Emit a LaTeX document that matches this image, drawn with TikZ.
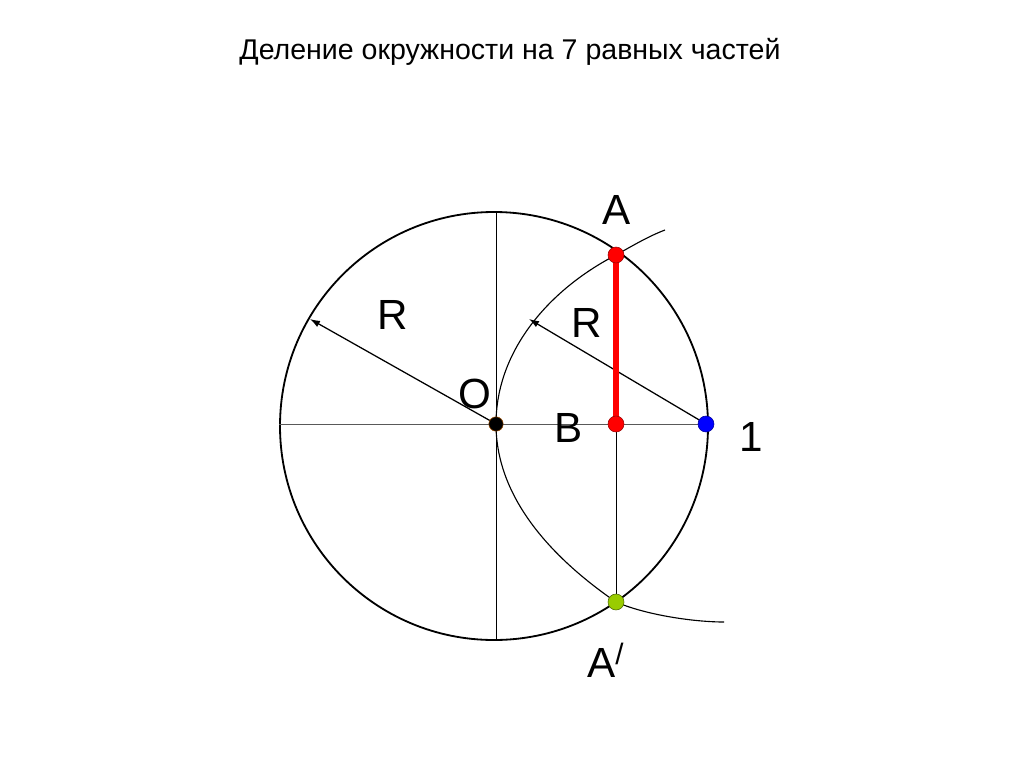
\documentclass[tikz,border=0pt]{standalone}
\usepackage{fontspec}
\setmainfont{Liberation Sans}
\usetikzlibrary{arrows.meta}

\definecolor{ptgreen}{RGB}{153,204,0}

\begin{document}
\begin{tikzpicture}[x=0.25mm, y=-0.25mm]

		\tikzstyle{dot}=[circle, inner sep=0pt, minimum size=4mm, draw, line width=0.4pt]
		\tikzstyle{lbl}=[font=\fontsize{30}{36}\selectfont, inner sep=0pt]
		\tikzstyle{fine}=[line width=0.6pt, black]
		\tikzstyle{radius}=[-{Latex[length=2.5mm, width=1.7mm]}, line width=0.9pt, black]

		\useasboundingbox (0,0) rectangle (1024,768);

		\node[font=\fontsize{20.3}{24}\selectfont] (title) at (510,52) {Деление окружности на 7 равных частей};

		% construction points
		\coordinate (c)    at (494,426);
		\coordinate (left) at (279,424);
		\coordinate (top)  at (496,213);
		\coordinate (bot)  at (496,640);
		\coordinate (r1)   at (310,319);
		\coordinate (r2)   at (529,319);
		\coordinate (arcA) at (665,230);
		\coordinate (arcB) at (724,622);
		\coordinate (pO)   at (496,424);
		\coordinate (pB)   at (616,424);
		\coordinate (pA)   at (616,255);
		\coordinate (p1)   at (706,424);
		\coordinate (pA1)  at (616,602);

		% circle and axes
		\draw[line width=1.3pt] (c) circle (53.5mm);
		\draw[line width=0.7pt, black!65] (left) -- (p1);
		\draw[fine] (top) -- (bot);
		\draw[fine] (pB) -- (pA1);

		% arc of radius R from point 1
		\draw[line width=0.8pt] (arcA) .. controls (649,236) and (632,246) .. (pA)
			.. controls (550,289) and (496,350) .. (pO)
			.. controls (496,500) and (555,560) .. (pA1)
			.. controls (646,615) and (694,622) .. (arcB);

		\draw[radius] (pO) -- (r1);
		\draw[radius] (p1) -- (r2);
		\draw[red, line width=4.3pt] (pA) -- (pB);

		% points
		\node[dot, fill=black, draw=orange!60!black, minimum size=3.6mm] (O) at (pO) {};
		\node[dot, fill=red, draw=red!60!black] (B) at (pB) {};
		\node[dot, fill=red, draw=red!60!black] (A) at (pA) {};
		\node[dot, fill=blue, draw=blue!60!black] (one) at (p1) {};
		\node[dot, fill=ptgreen, draw=ptgreen!50!black] (A1) at (pA1) {};

		\node[lbl] (lA)   at (617,210) {A};
		\node[lbl] (lR1)  at (393,315) {R};
		\node[lbl] (lR2)  at (587,323) {R};
		\node[lbl] (lO)   at (475,394) {O};
		\node[lbl] (lB)   at (569,428) {B};
		\node[lbl] (l1)   at (751,437) {1};
		\node[lbl, anchor=west] (lA1) at (587,660) {A\textsuperscript{/}};

\end{tikzpicture}
\end{document}
